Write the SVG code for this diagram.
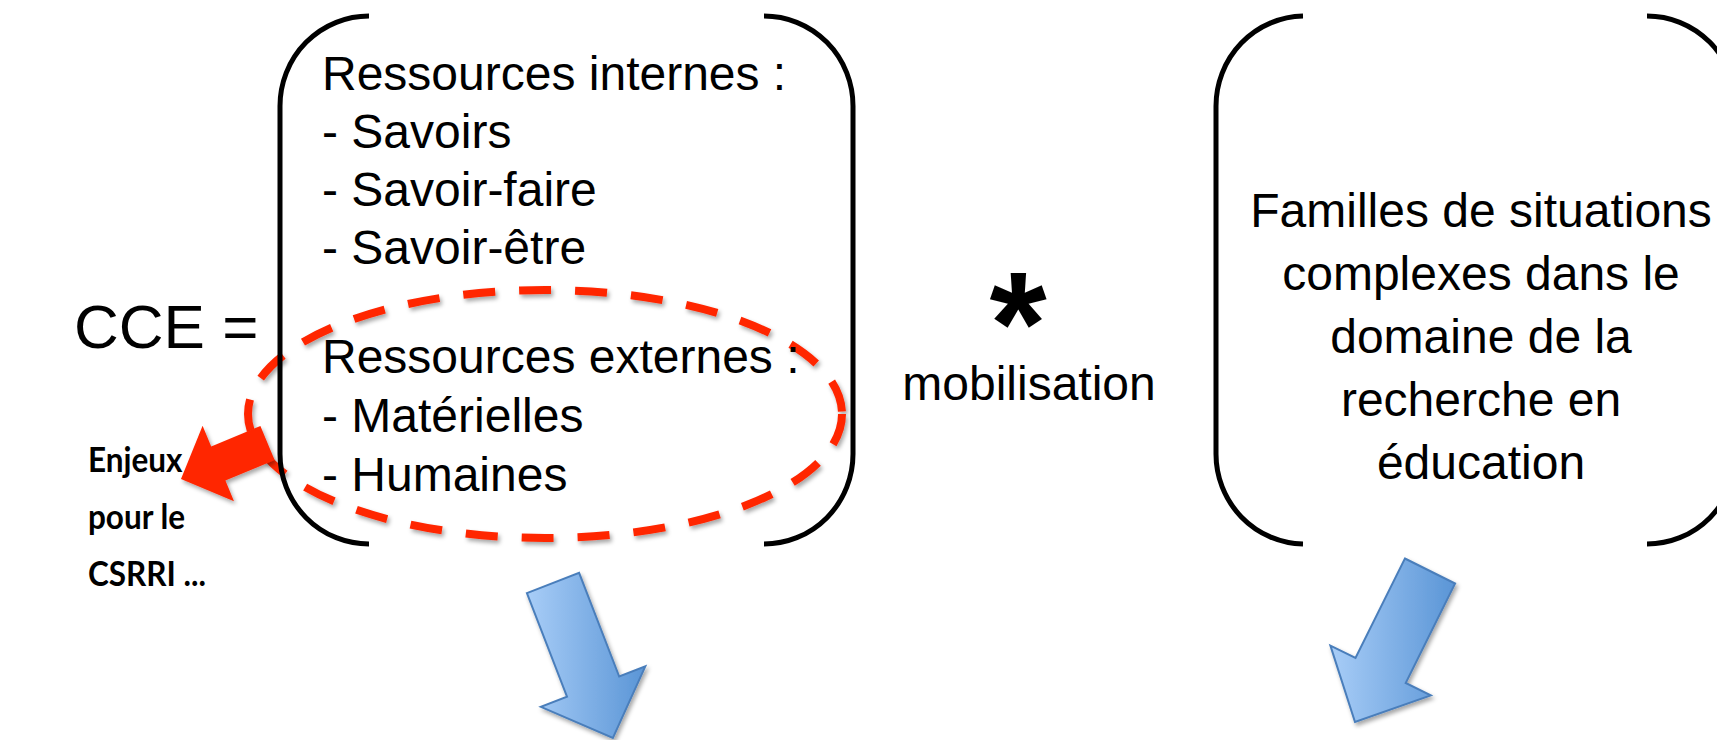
<svg xmlns="http://www.w3.org/2000/svg" width="1717" height="740" viewBox="0 0 1717 740">
<style>
.txt{font-family:"Liberation Sans",Arial,sans-serif;font-size:48px;fill:#000}
.br{fill:none;stroke:#000;stroke-width:5}
.bold{font-family:Lato,"Open Sans",sans-serif;font-weight:700;font-size:35px;fill:#000}
.blue{fill:url(#bg);stroke:#4a7ebb;stroke-width:2;filter:url(#sh)}
</style>
<defs>
<linearGradient id="bg" x1="0" y1="0" x2="1" y2="0">
<stop offset="0" stop-color="#a8cdf7"/>
<stop offset="1" stop-color="#5a95d6"/>
</linearGradient>
<filter id="sh" x="-20%" y="-20%" width="140%" height="140%">
<feDropShadow dx="2" dy="3" stdDeviation="2" flood-color="#000" flood-opacity="0.35"/>
</filter>
</defs>
<g id="ellipse-externes">
<ellipse cx="545" cy="414" rx="297" ry="124" fill="none" stroke="#ff2600" stroke-width="8" stroke-dasharray="32 24" filter="url(#sh)"/>
</g>
<g id="connectors">
<polygon id="red-arrow" points="260.4,425.9 274.6,460.1 225.4,480.6 234,501.3 181,479 202.6,425.7 211.2,446.4" fill="#ff2600" filter="url(#sh)"/>
<polygon id="blue-arrow-left" class="blue" points="526.9,593.1 579.1,572.9 619.2,676.5 645.3,666.4 612.9,737.9 540.9,706.8 567,696.7"/>
<polygon id="blue-arrow-right" class="blue" points="1404.9,558.5 1455.1,583.5 1405.7,683 1430.8,695.4 1355,722 1330.4,645.6 1355.5,658"/>
</g>
<g id="cce">
<text class="txt" x="74" y="348" style="font-size:62px">CCE =</text>
</g>
<g id="ressources">
<path class="br" d="M369,16 A89,90 0 0 0 280,106 L280,454 A89,90 0 0 0 369,544"/>
<path class="br" d="M764,16 A89,90 0 0 1 853,106 L853,454 A89,90 0 0 1 764,544"/>
<text class="txt" x="322" y="90">Ressources internes :</text>
<text class="txt" x="322" y="148">- Savoirs</text>
<text class="txt" x="322" y="206">- Savoir-faire</text>
<text class="txt" x="322" y="264">- Savoir-être</text>
<text class="txt" x="322" y="373">Ressources externes :</text>
<text class="txt" x="322" y="432">- Matérielles</text>
<text class="txt" x="322" y="491">- Humaines</text>
</g>
<g id="mobilisation">
<text x="1018" y="374" text-anchor="middle" style="font-family:'Liberation Sans',Arial,sans-serif;font-weight:700;font-size:147px">*</text>
<text class="txt" x="1029" y="400" text-anchor="middle">mobilisation</text>
</g>
<g id="familles">
<path class="br" d="M1303,16 A89,90 0 0 0 1216,106 L1216,454 A89,90 0 0 0 1303,544"/>
<path class="br" d="M1647,16 A89,90 0 0 1 1736,106 L1736,454 A89,90 0 0 1 1647,544"/>
<text class="txt" text-anchor="middle" x="1481" y="227">Familles de situations</text>
<text class="txt" text-anchor="middle" x="1481" y="290">complexes dans le</text>
<text class="txt" text-anchor="middle" x="1481" y="353">domaine de la</text>
<text class="txt" text-anchor="middle" x="1481" y="416">recherche en</text>
<text class="txt" text-anchor="middle" x="1481" y="479">éducation</text>
</g>
<g id="enjeux" transform="translate(88,0) scale(0.9,1) translate(-88,0)">
<text class="bold" x="88" y="472">Enjeux</text>
<text class="bold" x="88" y="529">pour le</text>
<text class="bold" x="88" y="586">CSRRI ...</text>
</g>
</svg>
